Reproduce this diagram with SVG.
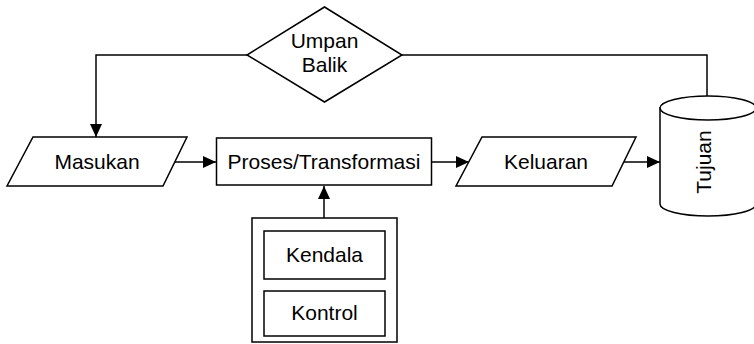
<svg xmlns="http://www.w3.org/2000/svg" width="754" height="344" viewBox="0 0 754 344">
<style>
.s{fill:#fff;stroke:#000;stroke-width:1.5}
.c{fill:none;stroke:#000;stroke-width:1.5}
.t{font-family:"Liberation Sans",Arial,sans-serif;font-size:21px;fill:#000;text-anchor:middle}
</style>
<defs>
<marker id="a" viewBox="0 0 13 12" refX="13" refY="6" markerWidth="13" markerHeight="12" markerUnits="userSpaceOnUse" orient="auto">
<path d="M0,0 L13,6 L0,12 Z" fill="#000"/>
</marker>
</defs>
<rect width="754" height="344" fill="#fff"/>
<g id="connectors">
<path class="c" d="M247,55 H96 V137" marker-end="url(#a)"/>
<path class="c" d="M402,55 H707 V96"/>
<path class="c" d="M175,162 H216" marker-end="url(#a)"/>
<path class="c" d="M432,162 H469" marker-end="url(#a)"/>
<path class="c" d="M624,162 H660" marker-end="url(#a)"/>
<path class="c" d="M324,218 V186" marker-end="url(#a)"/>
</g>
<g id="umpan-balik">
<polygon class="s" points="324.5,7 402,55 324.5,102 247,55"/>
<text class="t" x="324.5" y="48">Umpan</text>
<text class="t" x="324.5" y="72">Balik</text>
</g>
<g id="masukan">
<polygon class="s" points="33,137 187,137 163,186 7,186"/>
<text class="t" x="97" y="169">Masukan</text>
</g>
<g id="proses">
<rect class="s" x="216.5" y="138" width="215" height="47"/>
<text class="t" x="324" y="169">Proses/Transformasi</text>
</g>
<g id="keluaran">
<polygon class="s" points="482,137 636,137 612,186 456,186"/>
<text class="t" x="546" y="169">Keluaran</text>
</g>
<g id="tujuan">
<path class="s" d="M660,108 V204 A48,12 0 0 0 756,204 V108 Z"/>
<ellipse class="s" cx="708" cy="108" rx="48" ry="12"/>
<text class="t" transform="translate(704,162) rotate(-90)" y="7">Tujuan</text>
</g>
<g id="batasan">
<rect class="s" x="252" y="218" width="145" height="124"/>
</g>
<g id="kendala">
<rect class="s" x="264" y="231" width="121" height="48"/>
<text class="t" x="324.5" y="262">Kendala</text>
</g>
<g id="kontrol">
<rect class="s" x="264" y="291" width="121" height="45"/>
<text class="t" x="324.5" y="320">Kontrol</text>
</g>
</svg>
